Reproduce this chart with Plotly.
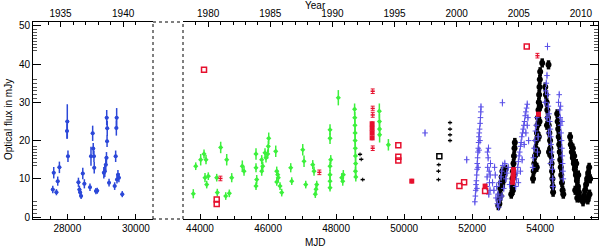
import datetime
import plotly.graph_objects as go

# ---------------- data ----------------
# left panel: 1930s blue points
old_mjd = [27577, 27605, 27683, 27721, 27770, 27991, 28000, 28020, 28325, 28354,
           28374, 28403, 28452, 28498, 28662, 28691, 28740, 28757, 28778, 28786,
           28835, 28873, 29066, 29094, 29123, 29143, 29160, 29165, 29150, 29218,
           29382, 29411, 29431, 29440, 29449, 29477, 29506, 29604]
old_flux = [7.2, 11.6, 6.5, 9.4, 13.0, 22.5, 25.0, 15.9, 9.1, 7.2,
            6.5, 5.5, 11.4, 8.7, 7.8, 15.9, 21.9, 17.9, 15.9, 12.9,
            6.8, 6.9, 11.6, 12.0, 13.7, 15.5, 19.8, 23.2, 26.0, 9.0,
            8.1, 15.9, 23.3, 26.0, 9.8, 11.1, 10.3, 6.0]
old_err = [1.0, 1.5, 0.8, 1.2, 1.5, 2.0, 4.5, 1.5, 1.2, 1.0,
           1.0, 0.8, 1.5, 1.2, 1.0, 2.5, 2.0, 1.5, 1.5, 1.5,
           0.8, 0.8, 1.5, 1.5, 1.5, 1.5, 1.5, 2.0, 2.0, 1.0,
           1.0, 1.5, 2.0, 2.5, 1.0, 1.2, 1.2, 0.8]

# right panel: green points (1979-1994)
green_mjd = [43803, 43874, 44020, 44118, 44176, 44147, 44197, 44244, 44491, 44509,
             44608, 44756, 44785, 44862, 44932, 45244, 45294, 45646, 45646, 45667,
             45646, 45814, 45843, 45814, 45911, 45940, 45990, 46008, 46020, 46226,
             46255, 46284, 46302, 46255, 46352, 46402, 46667, 46696, 47020, 47058,
             47108, 47314, 47352, 47431, 47411, 47390, 47822, 47822, 47843, 47822,
             47822, 47822, 47822, 48066, 48166, 48213, 48196,
             48545, 48550, 48555, 48560, 48560, 48565, 48570, 48575, 48570, 48580,
             49272, 49275, 49278, 49280, 49538]
green_flux = [6.1, 13.3, 15.0, 16.5, 15.0, 10.3, 8.5, 10.7, 10.3, 6.4,
              18.2, 5.5, 15.0, 6.2, 10.3, 13.3, 12.0, 16.5, 12.9, 9.8,
              8.1, 15.0, 13.3, 12.0, 16.8, 15.5, 16.5, 18.5, 20.6, 17.2,
              12.0, 11.1, 10.3, 9.2, 8.1, 6.4, 12.9, 9.4, 17.6, 14.6,
              8.5, 13.7, 12.0, 8.5, 7.3, 6.0, 22.8, 20.6, 15.0, 13.3,
              11.1, 9.4, 7.7, 31.2, 10.3, 11.1, 9.4,
              28.2, 26.0, 24.0, 22.0, 20.0, 18.0, 16.0, 14.0, 12.0, 10.5,
              27.7, 25.0, 23.0, 21.5, 18.9]
green_err = [1.2, 1.0, 1.5, 1.2, 1.2, 1.2, 1.0, 1.0, 1.0, 1.0,
             1.5, 1.0, 1.5, 1.0, 1.2, 1.5, 1.2, 1.5, 1.2, 1.2,
             1.0, 1.2, 1.2, 1.2, 1.2, 1.2, 1.2, 1.5, 1.5, 1.5,
             1.2, 1.2, 1.2, 1.0, 1.0, 1.0, 1.2, 1.0, 1.5, 1.5,
             1.0, 1.2, 1.2, 1.0, 1.0, 1.0, 1.5, 1.5, 1.2, 1.2,
             1.2, 1.2, 1.0, 2.0, 1.2, 1.2, 1.2,
             1.5, 1.5, 1.5, 1.5, 1.5, 1.5, 1.5, 1.5, 1.2, 1.2,
             2.0, 2.0, 2.0, 2.0, 1.5]

# right panel: black points (sparse and dense)
black_small_mjd = [51350, 51350, 51350, 51350, 51020, 51010, 51010, 48704, 48740, 48783]
black_small_flux = [24.7, 23.0, 21.5, 20.0, 13.7, 12.0, 9.8, 16.4, 15.1, 9.8]
black_open_mjd = [51036]
black_open_flux = [15.9]
black_mjd = [52770, 52790, 52810, 52830, 52850, 52870, 52890, 52800, 52840, 52880, 52920, 52950, 52980,
             53150, 53170, 53185, 53200, 53215, 53230, 53245, 53255, 53200, 53240,
             53790, 53810, 53830, 53850, 53870, 53890, 53905, 53920, 53935, 53950, 53960,
             53970, 53980, 53990, 54000, 53900, 53940, 53960, 53980, 54000, 54060, 54245,
             54150, 54170, 54190, 54210, 54230, 54250, 54270, 54290, 54300, 54320, 54335,
             54350, 54360, 54370, 54380, 54200, 54260,
             54500, 54515, 54530, 54545, 54560, 54575, 54590, 54605, 54620, 54640, 54660, 54680,
             54880, 54900, 54930, 54960, 54990, 55020, 55050, 55080, 55110, 55140, 55170,
             54960, 55000, 55060, 55120, 55030, 55090,
             55260, 55290, 55320, 55350, 55380, 55410, 55440, 55470, 55450, 55400]
black_flux = [3.0, 4.5, 6.0, 7.5, 9.0, 10.5, 12.0, 3.5, 5.5, 8.0, 9.5, 11.0, 12.5,
              6.0, 8.0, 10.0, 12.0, 14.0, 16.0, 18.0, 19.5, 7.0, 11.0,
              10.0, 12.0, 14.0, 16.0, 18.0, 20.0, 22.0, 24.0, 26.0, 28.0, 30.0,
              32.0, 34.0, 36.0, 38.0, 13.0, 17.0, 21.0, 25.0, 29.0, 40.3, 39.8,
              34.0, 32.0, 30.0, 28.0, 26.0, 24.0, 22.0, 20.0, 18.0, 16.0, 14.0,
              12.0, 10.0, 8.0, 6.5, 24.0, 17.0,
              27.0, 25.0, 23.0, 21.0, 19.0, 17.0, 15.0, 13.0, 11.0, 9.0, 7.0, 6.0,
              21.0, 19.0, 17.0, 15.5, 14.0, 12.5, 11.0, 9.5, 8.0, 6.5, 5.0,
              18.0, 16.0, 14.0, 11.0, 7.0, 5.0,
              4.0, 5.5, 7.0, 8.5, 10.0, 11.5, 13.0, 10.0, 6.0, 4.5]

# right panel: blue (recent) points
blue_mjd = [50615, 51841, 52890,
            52080, 52095, 52105, 52115, 52125, 52135, 52145, 52150, 52160, 52170, 52180, 52190,
            52200, 52210, 52220, 52235, 52245, 52255, 52260, 52140, 52175, 52205, 52230,
            52420, 52440, 52455, 52470, 52480, 52500, 52510, 52525, 52540, 52490, 52530, 52450,
            52600, 52640, 52680, 52700, 52720, 52740, 52760, 52780, 52800, 52820, 52850, 52870,
            52900, 52930, 52960, 52990, 53020, 53060, 53100, 52660, 52880,
            53280, 53300, 53320, 53340, 53360, 53380, 53400, 53420, 53440, 53460, 53480, 53500,
            53520, 53540, 53560, 53580, 53600, 53620, 53640, 53360, 53420, 53470, 53530, 53580,
            53620, 53660,
            53780, 53800, 53820, 53840, 53860, 53880, 53900, 53920, 53940,
            54140, 54160, 54180, 54200, 54215, 54220, 54240, 54260, 54280, 54300, 54310, 54320,
            54340, 54350, 54360, 54370, 54380, 54200, 54250, 54300,
            54540, 54560, 54575, 54590, 54600, 54615, 54630, 54640, 54650, 54660, 54670, 54680,
            54600, 54640]
blue_flux = [22.0, 15.0, 29.9,
             4.0, 5.5, 7.0, 8.5, 9.5, 11.0, 12.5, 14.0, 15.5, 17.0, 18.0, 19.5,
             21.0, 22.0, 23.0, 24.5, 26.0, 27.5, 28.8, 7.5, 13.0, 17.5, 20.0,
             8.0, 10.5, 13.0, 15.5, 18.0, 12.0, 9.0, 7.0, 14.0, 6.0, 11.0, 17.0,
             9.0, 7.0, 11.0, 5.0, 8.0, 3.5, 6.0, 2.6, 9.0, 4.5, 10.5, 12.0,
             13.5, 7.5, 14.0, 10.0, 11.5, 13.0, 8.5, 13.0, 5.5,
             8.0, 10.0, 11.5, 13.0, 14.5, 16.0, 17.0, 18.5, 19.5, 21.0, 22.0, 23.0,
             24.0, 25.0, 26.5, 27.5, 28.5, 29.5, 26.0, 9.0, 12.0, 15.0, 19.0, 22.0,
             24.0, 20.0,
             13.0, 15.5, 18.0, 20.0, 22.5, 24.0, 26.0, 17.0, 21.0,
             30.0, 33.0, 35.0, 37.0, 44.6, 32.0, 29.0, 27.0, 25.0, 23.0, 21.0, 19.0,
             17.0, 15.0, 12.5, 10.0, 8.0, 26.0, 22.0, 14.0,
             30.0, 32.0, 28.0, 26.0, 24.0, 22.0, 20.0, 18.0, 16.0, 14.0, 12.0, 10.0,
             29.0, 25.0]

# right panel: red points
red_open_mjd = [44118, 44491, 44491, 49830, 49830, 49830, 51626, 51764, 52381, 53605]
red_open_flux = [38.5, 3.4, 4.6, 18.8, 15.8, 14.8, 8.1, 9.1, 6.8, 44.6]
red_fill_mjd = [49060, 49060, 49060, 49060, 50225, 52381, 53190, 53200, 53210, 53215, 53950]
red_fill_flux = [20.7, 22.0, 23.2, 24.4, 9.4, 8.1, 9.1, 10.2, 11.2, 12.4, 26.9]
red_small_mjd = [44600, 47508, 49077, 49077, 49077, 49077, 53920]
red_small_flux = [10.1, 11.7, 32.9, 28.4, 26.7, 18.0, 42.2]

# axis ticks
mjd_ticks_left = [28000, 30000]
mjd_ticks_right = [44000, 46000, 48000, 50000, 52000, 54000]
year_major_left = [1935, 1940]
year_minor_left = list(range(1934, 1942))
year_major_right = [1980, 1985, 1990, 1995, 2000, 2005, 2010]
year_minor_right = list(range(1979, 2012))


def year_to_mjd(y):
    return (datetime.date(y, 1, 1) - datetime.date(1858, 11, 17)).days


# ---------------- figure ----------------
FONT = "Liberation Sans"
BLACK = "#000000"
fig = go.Figure()

fig.add_trace(go.Scatter(
    x=old_mjd, y=old_flux, mode="markers", xaxis="x", yaxis="y",
    marker=dict(symbol="circle", size=4, color="#2c48d8"),
    error_y=dict(type="data", array=old_err, color="#2c48d8", thickness=1.5, width=0),
    error_x=dict(type="constant", value=55, color="#2c48d8", thickness=1.2, width=0),
))

fig.add_trace(go.Scatter(
    x=green_mjd, y=green_flux, mode="markers", xaxis="x2", yaxis="y2",
    marker=dict(symbol="diamond", size=4, color="#3cf03c"),
    error_y=dict(type="data", array=green_err, color="#3cf03c", thickness=1.5, width=0),
))

fig.add_trace(go.Scatter(
    x=black_mjd, y=black_flux, mode="markers", xaxis="x2", yaxis="y2",
    marker=dict(symbol="circle", size=6, color=BLACK),
    error_y=dict(type="constant", value=1.2, color=BLACK, thickness=3.5, width=0),
))
fig.add_trace(go.Scatter(
    x=black_small_mjd, y=black_small_flux, mode="markers", xaxis="x2", yaxis="y2",
    marker=dict(symbol="line-ew", size=3, color=BLACK, line=dict(width=1.5, color=BLACK)),
    error_y=dict(type="constant", value=0.5, color=BLACK, thickness=1, width=0),
))
fig.add_trace(go.Scatter(
    x=black_open_mjd, y=black_open_flux, mode="markers", xaxis="x2", yaxis="y2",
    marker=dict(symbol="square-open", size=5, color=BLACK, line=dict(width=1.5)),
))

fig.add_trace(go.Scatter(
    x=blue_mjd, y=blue_flux, mode="markers", xaxis="x2", yaxis="y2",
    marker=dict(symbol="cross-thin", size=4, color="#5a50e6", line=dict(width=1, color="#5a50e6")),
    error_y=dict(type="constant", value=1.0, color="#7a72f0", thickness=1, width=0),
))

fig.add_trace(go.Scatter(
    x=red_open_mjd, y=red_open_flux, mode="markers", xaxis="x2", yaxis="y2",
    marker=dict(symbol="square-open", size=5, color="#e6102e", line=dict(width=1.5)),
))
fig.add_trace(go.Scatter(
    x=red_fill_mjd, y=red_fill_flux, mode="markers", xaxis="x2", yaxis="y2",
    marker=dict(symbol="square", size=5, color="#e6102e"),
    error_y=dict(type="constant", value=0.6, color="#e6102e", thickness=2, width=0),
))
fig.add_trace(go.Scatter(
    x=red_small_mjd, y=red_small_flux, mode="markers", xaxis="x2", yaxis="y2",
    marker=dict(symbol="line-ew", size=3, color="#e6102e", line=dict(width=1.5, color="#e6102e")),
    error_y=dict(type="constant", value=0.6, color="#e6102e", thickness=1, width=2),
))

# empty traces so the top (year) axes get drawn
fig.add_trace(go.Scatter(x=[], y=[], xaxis="x3", yaxis="y", showlegend=False))
fig.add_trace(go.Scatter(x=[], y=[], xaxis="x4", yaxis="y2", showlegend=False))

W, H = 600, 249
L, R, T, B = 33, 2, 22, 30
pw = W - L - R
ph = H - T - B
left_end = (153 - L) / pw
right_start = (183 - L) / pw
xr_left = [27000, 30500]
xr_right = [43500, 55700]
yr = [-0.5, 51]

tickfont = dict(family=FONT, size=10, color=BLACK)
common_x = dict(showgrid=False, zeroline=False, showline=True, linecolor=BLACK, linewidth=1,
                ticks="inside", ticklen=5, tickcolor=BLACK, tickfont=tickfont)

y_minor = [1, 2, 3, 4, 13.6, 14.4, 15.2, 16.0, 16.8, 17.6, 18.4,
           31.0, 32.0, 33.0, 34.0, 35.0, 36.0,
           43.5, 44.3, 45.1, 45.9, 46.7, 47.5, 48.3, 49.1]
common_y = dict(showgrid=False, zeroline=False, showline=True, linecolor=BLACK, linewidth=1,
                ticks="inside", ticklen=8, tickcolor=BLACK, tickfont=tickfont,
                range=yr, tickvals=[0, 10, 20, 30, 40, 50], domain=[0, 1],
                minor=dict(tickvals=y_minor, ticks="inside", ticklen=4, tickcolor="#555555"))

fig.update_layout(
    width=W, height=H,
    margin=dict(l=L, r=R, t=T, b=B, pad=0, autoexpand=False),
    paper_bgcolor="white", plot_bgcolor="white",
    showlegend=False,
    xaxis=dict(common_x, domain=[0, left_end], range=xr_left, anchor="y",
               tickvals=mjd_ticks_left, ticktext=[str(v) for v in mjd_ticks_left],
               minor=dict(dtick=500, tick0=27000, ticks="inside", ticklen=3, tickcolor=BLACK)),
    xaxis2=dict(common_x, domain=[right_start, 1], range=xr_right, anchor="y2",
                tickvals=mjd_ticks_right, ticktext=[str(v) for v in mjd_ticks_right],
                minor=dict(dtick=500, tick0=43500, ticks="inside", ticklen=3, tickcolor=BLACK)),
    xaxis3=dict(common_x, overlaying="x", side="top", anchor="y", range=xr_left,
                tickvals=[year_to_mjd(y) for y in year_major_left],
                ticktext=[str(y) for y in year_major_left],
                minor=dict(tickvals=[year_to_mjd(y) for y in year_minor_left],
                           ticks="inside", ticklen=3, tickcolor=BLACK)),
    xaxis4=dict(common_x, overlaying="x2", side="top", anchor="y2", range=xr_right,
                tickvals=[year_to_mjd(y) for y in year_major_right],
                ticktext=[str(y) for y in year_major_right],
                minor=dict(tickvals=[year_to_mjd(y) for y in year_minor_right],
                           ticks="inside", ticklen=3, tickcolor=BLACK)),
    yaxis=dict(common_y, anchor="x", side="left"),
    yaxis2=dict(common_y, anchor="x2", side="right", showticklabels=False),
)

# broken-axis dotted connectors
dot = dict(color=BLACK, width=1, dash="dot")
for (x0, y0, x1, y1) in [(left_end, 0, left_end, 1), (right_start, 0, right_start, 1),
                         (left_end, 0, right_start, 0), (left_end, 1, right_start, 1)]:
    fig.add_shape(type="line", xref="paper", yref="paper", x0=x0, y0=y0, x1=x1, y1=y1, line=dot)

fig.add_annotation(text="Year", xref="paper", yref="paper", x=0.5, y=1 + (T - 6) / ph,
                   showarrow=False, font=dict(family=FONT, size=10, color=BLACK),
                   xanchor="center", yanchor="middle")
fig.add_annotation(text="MJD", xref="paper", yref="paper", x=0.5, y=-(242 - (H - B)) / ph,
                   showarrow=False, font=dict(family=FONT, size=10, color=BLACK),
                   xanchor="center", yanchor="middle")
fig.add_annotation(text="Optical flux in mJy", xref="paper", yref="paper",
                   x=(8 - L) / pw, y=(H - B - 120) / ph, textangle=-90,
                   showarrow=False, font=dict(family=FONT, size=10, color=BLACK),
                   xanchor="center", yanchor="middle")

fig.write_html("out.html", config={"displayModeBar": False},
               post_script="document.body.style.margin='0';document.body.style.overflow='hidden';")
